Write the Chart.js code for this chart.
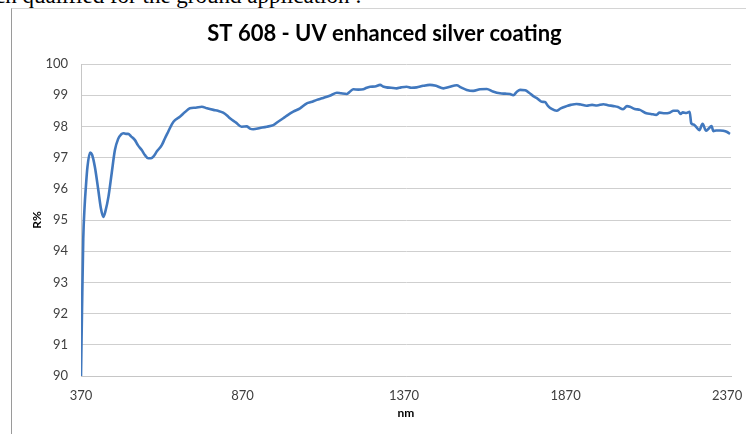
<!DOCTYPE html>
<html>
<head>
<meta charset="utf-8">
<script src="https://cdn.jsdelivr.net/npm/chart.js@4.4.1/dist/chart.umd.min.js"></script>
<style>
  html, body { margin: 0; padding: 0; background: #fff; overflow: hidden; }
  body { width: 746px; height: 434px; position: relative; }
  .lead {
    position: absolute; left: -5px; top: -17px; white-space: nowrap;
    font: 23px "Liberation Serif", "DejaVu Serif", serif; color: #000;
  }
  .frame {
    position: absolute; left: 11px; top: 8px; width: 740px; height: 430px;
    border-left: 1px solid #9a9a9a; border-top: 1px solid #d4d4d4;
  }
  #chart { position: absolute; left: 0; top: 0; }
</style>
</head>
<body>
<div class="lead">ch qualified for the ground application :</div>
<div class="frame"></div>
<canvas id="chart" width="746" height="434"></canvas>
<script>
const chartTitle = "ST 608 - UV enhanced silver coating";
const wavelength = [
  370, 373, 377, 381, 385, 390, 398, 404, 413, 423, 432, 439, 446, 455, 465, 475,
  485, 494, 501, 509, 516, 525, 537, 546, 558, 568, 578, 587, 594, 605, 620, 630,
  640, 652, 661, 676, 692, 707, 725, 744, 760, 780, 794, 810, 822, 831, 850, 867,
  883, 893, 903, 924, 945, 965, 980, 996, 1011, 1027, 1048, 1069, 1082, 1100, 1116, 1131,
  1144, 1162, 1175, 1193, 1203, 1213, 1228, 1244, 1252, 1265, 1280, 1296, 1305, 1316, 1330, 1347,
  1361, 1378, 1392, 1409, 1429, 1450, 1469, 1492, 1509, 1533, 1546, 1564, 1584, 1605, 1626, 1645,
  1667, 1683, 1698, 1708, 1720, 1729, 1745, 1757, 1770, 1782, 1796, 1806, 1816, 1827, 1842, 1855,
  1873, 1886, 1904, 1917, 1935, 1952, 1967, 1987, 2001, 2018, 2032, 2048, 2060, 2069, 2084, 2100,
  2120, 2134, 2151, 2161, 2177, 2192, 2204, 2217, 2226, 2233, 2244, 2254, 2259, 2266, 2274, 2284,
  2294, 2305, 2310, 2322, 2327, 2336, 2348, 2358, 2370, 2379
];
const reflectance = [
  90.0, 92.0, 94.4, 95.4, 96.05, 96.7, 97.16, 97.1, 96.7, 96.0, 95.35, 95.1, 95.3, 95.75, 96.5, 97.24,
  97.6, 97.74, 97.78, 97.76, 97.76, 97.68, 97.56, 97.4, 97.24, 97.08, 96.98, 96.98, 97.03, 97.2, 97.4, 97.62,
  97.83, 98.08, 98.2, 98.31, 98.46, 98.58, 98.6, 98.63, 98.58, 98.53, 98.5, 98.44, 98.35, 98.26, 98.12, 97.99,
  98.0, 97.93, 97.91, 97.95, 97.99, 98.04, 98.15, 98.26, 98.37, 98.47, 98.58, 98.74, 98.78, 98.85, 98.9, 98.95,
  99.0, 99.08, 99.06, 99.04, 99.12, 99.19, 99.18, 99.19, 99.23, 99.27, 99.28, 99.33, 99.28, 99.25, 99.24, 99.22,
  99.25, 99.27, 99.24, 99.25, 99.3, 99.33, 99.3, 99.22, 99.26, 99.32, 99.25, 99.17, 99.14, 99.19, 99.2, 99.12,
  99.06, 99.05, 99.04, 99.0, 99.12, 99.17, 99.16, 99.08, 98.97, 98.9, 98.79, 98.78, 98.65, 98.56, 98.5, 98.58,
  98.65, 98.69, 98.72, 98.7, 98.66, 98.69, 98.67, 98.71, 98.68, 98.65, 98.62, 98.55, 98.65, 98.63, 98.56, 98.53,
  98.42, 98.4, 98.37, 98.44, 98.42, 98.44, 98.5, 98.5, 98.4, 98.45, 98.43, 98.47, 98.1, 98.06, 97.99, 97.88,
  98.08, 97.86, 97.9, 98.01, 97.85, 97.87, 97.87, 97.86, 97.82, 97.76
];
const xTicks = [370, 870, 1370, 1870, 2370];
const yTicks = [90, 91, 92, 93, 94, 95, 96, 97, 98, 99, 100];

const points = wavelength.map((w, i) => ({ x: w, y: reflectance[i] }));
const fontFamily = "Lato, 'Open Sans', sans-serif";
const tickFont = { family: fontFamily, size: 13 };

// chart heading, centred over the whole frame like the spreadsheet original
const headingPlugin = {
  id: "heading",
  afterDraw(chart) {
    const c = chart.ctx;
    c.save();
    c.font = "bold 22px " + fontFamily;
    c.fillStyle = "#000";
    c.textAlign = "center";
    c.textBaseline = "middle";
    c.fillText(chartTitle, 384.5, 34);
    c.restore();
  },
};

const ctx = document.getElementById("chart").getContext("2d");
new Chart(ctx, {
  type: "line",
  data: {
    datasets: [
      {
        label: "R%",
        data: points,
        borderColor: "#4178be",
        borderWidth: 2.6,
        pointRadius: 0,
        cubicInterpolationMode: "monotone",
        fill: false,
      },
    ],
  },
  options: {
    responsive: false,
    animation: false,
    events: [],
    layout: { padding: { left: 12, right: 15, top: 64, bottom: 10 } },
    scales: {
      x: {
        type: "linear",
        min: 370,
        max: 2382,
        afterBuildTicks: (scale) => {
          scale.ticks = xTicks.map((v) => ({ value: v }));
        },
        afterFit: (scale) => {
          scale.height = 48;
          scale.paddingLeft = 0;
          scale.paddingRight = 0;
        },
        grid: { display: false, drawTicks: false },
        border: { display: true, color: "#c6c6c6", width: 1 },
        ticks: {
          color: "#404040",
          font: tickFont,
          padding: 12,
          maxRotation: 0,
          callback: (v) => String(v),
        },
        title: {
          display: true,
          text: "nm",
          color: "#000",
          font: { family: fontFamily, size: 12, weight: "bold" },
          padding: { top: 0, bottom: 4 },
        },
      },
      y: {
        min: 90,
        max: 100,
        afterBuildTicks: (scale) => {
          scale.ticks = yTicks.map((v) => ({ value: v }));
        },
        afterFit: (scale) => { scale.width = 69; },
        grid: { color: "#cfcfcf", lineWidth: 1, drawTicks: false },
        border: { display: true, color: "#c6c6c6", width: 1 },
        ticks: {
          color: "#404040",
          font: tickFont,
          padding: 13,
        },
        title: {
          display: true,
          text: "R%",
          color: "#000",
          font: { family: fontFamily, size: 12, weight: "bold" },
          padding: { top: 18, bottom: 0 },
        },
      },
    },
    plugins: {
      legend: { display: false },
      tooltip: { enabled: false },
      title: { display: false },
    },
  },
  plugins: [headingPlugin],
});
</script>
</body>
</html>
